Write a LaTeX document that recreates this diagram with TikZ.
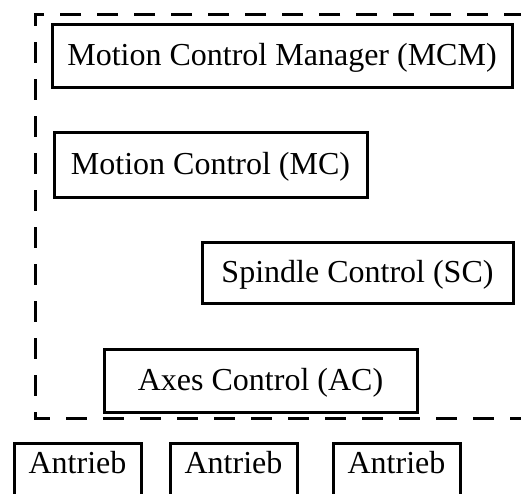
\documentclass[tikz,border=0pt]{standalone}
\usepackage{fontspec}
\setmainfont{Liberation Serif}
\usetikzlibrary{positioning}

\begin{document}
\begin{tikzpicture}[x=1pt, y=-1pt, node distance={26pt},
        block/.style = {draw, line width=3pt, inner sep=0pt, text height=24pt, text depth=4pt,
                        font=\fontsize{32}{38}\selectfont},
        drive/.style = {draw, line width=3pt, inner sep=0pt, anchor=north, minimum width=127pt,
                        text height=30pt, text depth=40pt, font=\fontsize{32}{38}\selectfont},
        frame/.style = {line width=3pt, dash pattern=on 21pt off 16pt, dash phase=4pt}]
    \useasboundingbox (0,0) rectangle (521,493);

    \node[block, minimum width=460pt, minimum height=63pt] (MCM) at (282,55.5) {Motion Control Manager (MCM)};
    \node[block, minimum width=313pt, minimum height=65pt] (MC) at (210.5,164.5) {Motion Control (MC)};
    \node[block, minimum width=311pt, minimum height=61pt] (SC) at (357.5,272.5) {Spindle Control (SC)};
    \node[block, minimum width=313pt, minimum height=63pt] (AC) at (260.5,380.5) {Axes Control (AC)};

    % dashed frame, open to the right
    \draw[frame] (521,14) -- (35,14) -- (35,418) -- (521,418);

    \node[drive] (D1) at (77.5,442) {Antrieb};
    \node[drive] (D2) [right=26pt of D1] {Antrieb};
    \node[drive] (D3) [right=33pt of D2] {Antrieb};
\end{tikzpicture}
\end{document}
